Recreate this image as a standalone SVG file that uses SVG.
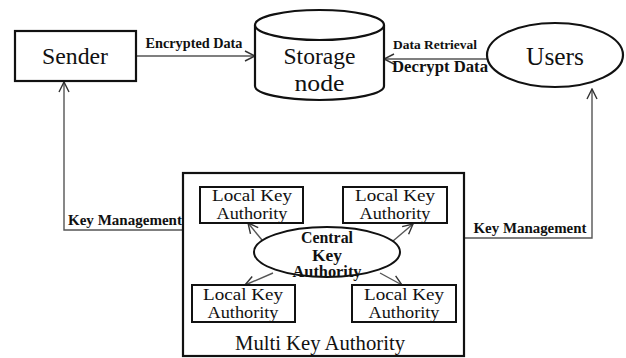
<svg xmlns="http://www.w3.org/2000/svg" width="626" height="358" viewBox="0 0 626 358">
<style>
.node{fill:#fff;stroke:#111;stroke-width:2.2}
.inner{fill:#fff;stroke:#111;stroke-width:2}
.conn{fill:none;stroke:#555;stroke-width:1.4}
.t{font-family:"Liberation Serif","Times New Roman",Times,"Tinos","DejaVu Serif","Noto Serif",serif;fill:#111;text-anchor:middle}
.b{font-weight:bold}
</style>
<defs>
<marker id="arr" markerUnits="userSpaceOnUse" markerWidth="12" markerHeight="12" viewBox="0 0 12 12" refX="11" refY="6" orient="auto">
<path d="M1,1 L11,6 L1,11" fill="none" stroke="#333" stroke-width="1.4"/>
</marker>
</defs>
<rect width="626" height="358" fill="#fff"/>
<g id="connectors">
<line class="conn" x1="136" y1="56" x2="255" y2="56" marker-end="url(#arr)"/>
<line class="conn" x1="487" y1="59" x2="384" y2="59" marker-end="url(#arr)"/>
<polyline class="conn" points="183,230 64,230 64,82" marker-end="url(#arr)"/>
<polyline class="conn" points="464,238 592,238 592,89" marker-end="url(#arr)"/>
<line class="conn" x1="262" y1="240" x2="248" y2="223" marker-end="url(#arr)"/>
<line class="conn" x1="393" y1="241" x2="413" y2="224" marker-end="url(#arr)"/>
<line class="conn" x1="273" y1="273" x2="245" y2="285" marker-end="url(#arr)"/>
<line class="conn" x1="380" y1="273" x2="402" y2="285" marker-end="url(#arr)"/>
<text class="t b" x="194" y="48" font-size="14" textLength="97" lengthAdjust="spacingAndGlyphs">Encrypted Data</text>
<text class="t b" x="435" y="49" font-size="13" textLength="84" lengthAdjust="spacingAndGlyphs">Data Retrieval</text>
<text class="t b" x="440" y="72" font-size="16" textLength="96" lengthAdjust="spacingAndGlyphs">Decrypt Data</text>
<text class="t b" x="125" y="225" font-size="15" textLength="114" lengthAdjust="spacingAndGlyphs">Key Management</text>
<text class="t b" x="530" y="233" font-size="15" textLength="113" lengthAdjust="spacingAndGlyphs">Key Management</text>
</g>
<g id="sender">
<rect class="node" x="15" y="31" width="121" height="50"/>
<text class="t" x="75" y="64" font-size="24" textLength="66" lengthAdjust="spacingAndGlyphs">Sender</text>
</g>
<g id="storage">
<path class="node" d="M255,25 L255,86 A64.5,14 0 0 0 384,86 L384,25 A64.5,15 0 0 0 255,25 Z"/>
<path class="node" d="M255,25 A64.5,15 0 0 0 384,25" fill="none"/>
<text class="t" x="319.5" y="64" font-size="24" textLength="72" lengthAdjust="spacingAndGlyphs">Storage</text>
<text class="t" x="319.5" y="91" font-size="24" textLength="50" lengthAdjust="spacingAndGlyphs">node</text>
</g>
<g id="users">
<ellipse class="node" cx="555" cy="55" rx="68" ry="32"/>
<text class="t" x="555" y="65" font-size="25" textLength="58" lengthAdjust="spacingAndGlyphs">Users</text>
</g>
<g id="multi-key-authority">
<rect x="183" y="173" width="281" height="183" fill="none" stroke="#111" stroke-width="2.2"/>
<text class="t" x="320" y="350" font-size="20" textLength="170" lengthAdjust="spacingAndGlyphs">Multi Key Authority</text>
</g>
<g id="lka-tl">
<rect class="inner" x="200" y="187" width="103" height="36"/>
<text class="t" x="252" y="201" font-size="17" textLength="80" lengthAdjust="spacingAndGlyphs">Local Key</text>
<text class="t" x="252" y="219" font-size="17" textLength="71" lengthAdjust="spacingAndGlyphs">Authority</text>
</g>
<g id="lka-tr">
<rect class="inner" x="343" y="187" width="104" height="36"/>
<text class="t" x="395" y="201" font-size="17" textLength="80" lengthAdjust="spacingAndGlyphs">Local Key</text>
<text class="t" x="395" y="219" font-size="17" textLength="71" lengthAdjust="spacingAndGlyphs">Authority</text>
</g>
<g id="lka-bl">
<rect class="inner" x="192" y="285" width="103" height="37"/>
<text class="t" x="243" y="300" font-size="17" textLength="80" lengthAdjust="spacingAndGlyphs">Local Key</text>
<text class="t" x="243" y="318" font-size="17" textLength="71" lengthAdjust="spacingAndGlyphs">Authority</text>
</g>
<g id="lka-br">
<rect class="inner" x="352" y="285" width="104" height="37"/>
<text class="t" x="404" y="300" font-size="17" textLength="80" lengthAdjust="spacingAndGlyphs">Local Key</text>
<text class="t" x="404" y="318" font-size="17" textLength="71" lengthAdjust="spacingAndGlyphs">Authority</text>
</g>
<g id="central">
<ellipse class="inner" cx="327" cy="252" rx="73" ry="25" stroke-width="2.4"/>
<text class="t b" x="327" y="243" font-size="16" textLength="52" lengthAdjust="spacingAndGlyphs">Central</text>
<text class="t b" x="327" y="261" font-size="16" textLength="30" lengthAdjust="spacingAndGlyphs">Key</text>
<text class="t b" x="327" y="277" font-size="16" textLength="69" lengthAdjust="spacingAndGlyphs">Authority</text>
</g>
</svg>
